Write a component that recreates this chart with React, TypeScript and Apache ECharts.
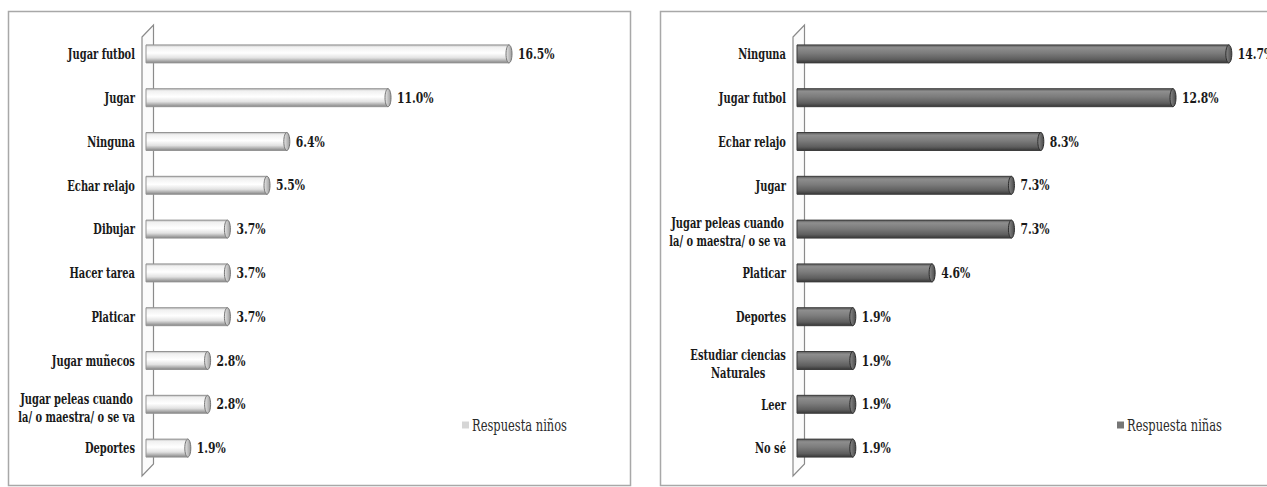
import React, { useEffect, useRef } from "react";
import * as echarts from "echarts";

// Boys' answers (left panel)
const boysName = "Respuesta niños";
const boysCategories = [
  "Jugar futbol",
  "Jugar",
  "Ninguna",
  "Echar relajo",
  "Dibujar",
  "Hacer tarea",
  "Platicar",
  "Jugar muñecos",
  "Jugar peleas cuando\nla/ o maestra/ o se va",
  "Deportes",
];
const boysValues = [16.5, 11.0, 6.4, 5.5, 3.7, 3.7, 3.7, 2.8, 2.8, 1.9];

// Girls' answers (right panel)
const girlsName = "Respuesta niñas";
const girlsCategories = [
  "Ninguna",
  "Jugar futbol",
  "Echar relajo",
  "Jugar",
  "Jugar peleas cuando\nla/ o maestra/ o se va",
  "Platicar",
  "Deportes",
  "Estudiar ciencias\nNaturales",
  "Leer",
  "No sé",
];
const girlsValues = [14.7, 12.8, 8.3, 7.3, 7.3, 4.6, 1.9, 1.9, 1.9, 1.9];

const FONT = "DejaVu Serif";
const TEXT = "#1a1a1a";

const measureCtx = document.createElement("canvas").getContext("2d");
function blockWidth(text: string, font: string): number {
  if (!measureCtx) return text.length * 7;
  measureCtx.font = font;
  return Math.max(...text.split("\n").map((l) => measureCtx.measureText(l).width));
}

type Palette = {
  body: { offset: number; color: string }[];
  edge: string;
  cap: { offset: number; color: string }[];
  capEdge: string;
  swatch: string;
};

const lightPalette: Palette = {
  body: [
    { offset: 0, color: "#bdbdbd" },
    { offset: 0.12, color: "#f0f0f0" },
    { offset: 0.45, color: "#ffffff" },
    { offset: 0.72, color: "#e2e2e2" },
    { offset: 1, color: "#868686" },
  ],
  edge: "#949494",
  cap: [
    { offset: 0, color: "#e6e6e6" },
    { offset: 1, color: "#9c9c9c" },
  ],
  capEdge: "#747474",
  swatch: "#d6d6d6",
};

const darkPalette: Palette = {
  body: [
    { offset: 0, color: "#5c5c5c" },
    { offset: 0.15, color: "#8e8e8e" },
    { offset: 0.45, color: "#7c7c7c" },
    { offset: 0.8, color: "#5e5e5e" },
    { offset: 1, color: "#383838" },
  ],
  edge: "#3c3c3c",
  cap: [
    { offset: 0, color: "#8a8a8a" },
    { offset: 1, color: "#4a4a4a" },
  ],
  capEdge: "#2c2c2c",
  swatch: "#767676",
};

const CAT_SIZE = 15;
const CAT_SCALE = 0.66;
const VAL_SIZE = 15;
const VAL_SCALE = 0.72;
const LEGEND_SIZE = 16;
const LEGEND_WIDTH = 95;

// Cylinder-like bar with a rounded end cap, its value label and its category label
function makeRenderItem(categories: string[], pal: Palette) {
  return (params: any, api: any) => {
    const v = api.value(0) as number;
    const idx = api.value(1) as number;
    const start = api.coord([0, idx]);
    const end = api.coord([v, idx]);
    const band = api.size([0, 1])[1];
    const h = band * 0.41;
    const cy = start[1];
    const capRx = 3;
    const cat = categories[idx];
    const catW = blockWidth(cat, `bold ${CAT_SIZE}px "${FONT}"`) * CAT_SCALE;
    const anchor = start[0] - 11;
    return {
      type: "group",
      children: [
        {
          type: "rect",
          shape: { x: start[0], y: cy - h / 2, width: end[0] - start[0], height: h },
          style: {
            fill: { type: "linear", x: 0, y: 0, x2: 0, y2: 1, colorStops: pal.body },
            stroke: pal.edge,
            lineWidth: 1,
          },
        },
        {
          type: "ellipse",
          shape: { cx: end[0], cy, rx: capRx, ry: h / 2 },
          style: {
            fill: { type: "linear", x: 0, y: 0, x2: 1, y2: 0, colorStops: pal.cap },
            stroke: pal.capEdge,
            lineWidth: 1,
          },
        },
        {
          type: "text",
          x: end[0] + 9,
          y: cy,
          scaleX: VAL_SCALE,
          style: {
            text: v.toFixed(1) + "%",
            fontFamily: FONT,
            fontSize: VAL_SIZE,
            fontWeight: "bold",
            fill: TEXT,
            align: "left",
            verticalAlign: "middle",
          },
        },
        {
          type: "text",
          x: anchor - catW / 2,
          y: cy + (cat.includes("\n") ? 3 : 0),
          scaleX: CAT_SCALE,
          style: {
            text: cat,
            fontFamily: FONT,
            fontSize: CAT_SIZE,
            fontWeight: "bold",
            lineHeight: 18,
            fill: TEXT,
            align: "center",
            verticalAlign: "middle",
          },
        },
      ],
    };
  };
}

// Layout of the two plot areas
const LEFT_GRID = { left: 146, top: 32, width: 440, height: 438 };
const RIGHT_GRID = { left: 797, top: 32, width: 472, height: 438 };

function wall(g: { left: number; top: number; height: number }) {
  const fx = g.left - 4;
  const bx = fx + 11.5;
  const bottom = g.top + g.height;
  return {
    type: "polygon",
    z: 0,
    shape: {
      points: [
        [fx, g.top + 5],
        [bx, g.top - 7],
        [bx, bottom - 6],
        [fx, bottom + 6],
      ],
    },
    style: { fill: "#fbfbfb", stroke: "#8a8a8a", lineWidth: 1.2 },
  };
}

// Legend entry: a small swatch followed by the series name
function legendEntry(name: string, x: number, y: number, pal: Palette) {
  const w = blockWidth(name, `${LEGEND_SIZE}px "${FONT}"`);
  return {
    type: "group",
    children: [
      {
        type: "rect",
        shape: { x, y: y - 3.5, width: 7, height: 7 },
        style: { fill: pal.swatch },
      },
      {
        type: "text",
        x: x + 10,
        y,
        scaleX: LEGEND_WIDTH / w,
        style: {
          text: name,
          fontFamily: FONT,
          fontSize: LEGEND_SIZE,
          fill: "#2a2a2a",
          align: "left",
          verticalAlign: "middle",
        },
      },
    ],
  };
}

export default function App() {
  const ref = useRef<HTMLDivElement>(null);

  useEffect(() => {
    if (!ref.current) return;
    const chart = echarts.init(ref.current, undefined, { renderer: "svg" });

    chart.setOption({
      animation: false,
      backgroundColor: "#ffffff",
      graphic: [
        {
          type: "rect",
          z: 0,
          shape: { x: 8.5, y: 11.5, width: 622, height: 474 },
          style: { fill: "none", stroke: "#a8a8a8", lineWidth: 1.5 },
        },
        {
          type: "rect",
          z: 0,
          shape: { x: 660.5, y: 11.5, width: 640, height: 474 },
          style: { fill: "none", stroke: "#a8a8a8", lineWidth: 1.5 },
        },
        wall(LEFT_GRID),
        wall(RIGHT_GRID),
        legendEntry(boysName, 462, 425, lightPalette),
        legendEntry(girlsName, 1117, 425, darkPalette),
      ],
      grid: [
        { ...LEFT_GRID, containLabel: false },
        { ...RIGHT_GRID, containLabel: false },
      ],
      xAxis: [
        { type: "value", gridIndex: 0, min: 0, max: 20, show: false },
        { type: "value", gridIndex: 1, min: 0, max: 16, show: false },
      ],
      yAxis: [
        { type: "category", gridIndex: 0, data: boysCategories, inverse: true, show: false },
        { type: "category", gridIndex: 1, data: girlsCategories, inverse: true, show: false },
      ],
      series: [
        {
          name: boysName,
          type: "custom",
          xAxisIndex: 0,
          yAxisIndex: 0,
          z: 2,
          itemStyle: { color: lightPalette.swatch },
          encode: { x: 0, y: 1 },
          data: boysValues.map((v, i) => [v, i]),
          renderItem: makeRenderItem(boysCategories, lightPalette),
        },
        {
          name: girlsName,
          type: "custom",
          xAxisIndex: 1,
          yAxisIndex: 1,
          z: 2,
          itemStyle: { color: darkPalette.swatch },
          encode: { x: 0, y: 1 },
          data: girlsValues.map((v, i) => [v, i]),
          renderItem: makeRenderItem(girlsCategories, darkPalette),
        },
      ],
    });

    return () => chart.dispose();
  }, []);

  return (
    <div
      ref={ref}
      style={{
        position: "absolute",
        left: 0,
        top: 0,
        width: 1267,
        height: 487,
        background: "#ffffff",
      }}
    />
  );
}
